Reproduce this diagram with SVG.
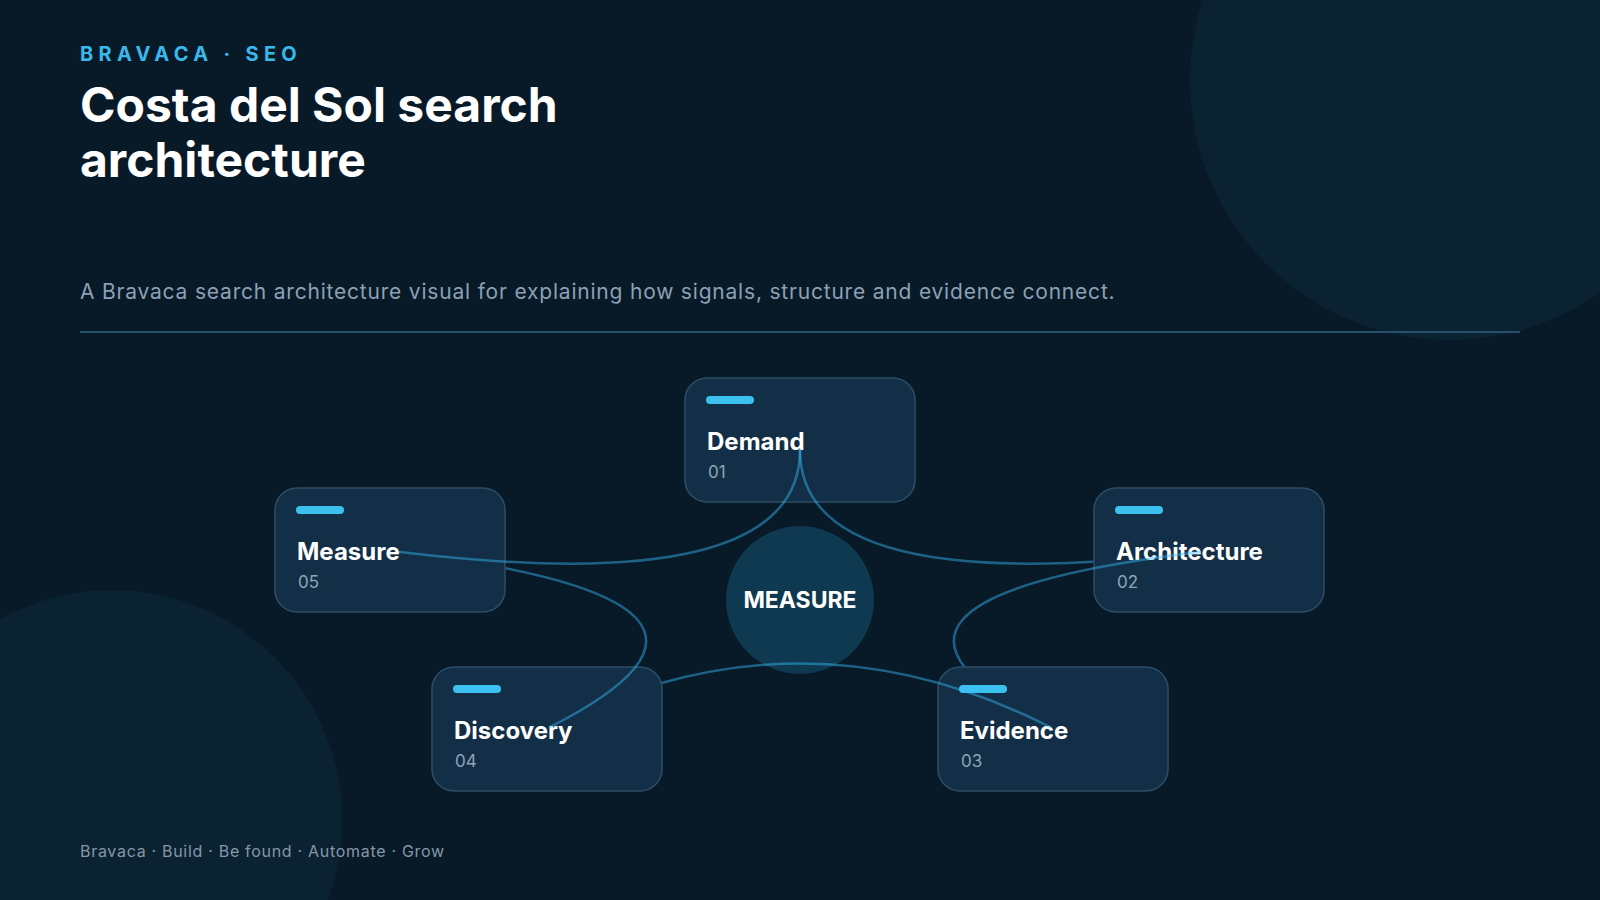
<svg xmlns="http://www.w3.org/2000/svg" width="1600" height="900" viewBox="0 0 1600 900">
  <style>
    .ff { font-family: Inter, "Noto Sans", "Liberation Sans", sans-serif; }
    .eyebrow { font-size: 20px; font-weight: 700; fill: #3ab8ec; letter-spacing: 5.3px; }
    .title { font-size: 48px; font-weight: 700; fill: #ffffff; }
    .sub { font-size: 21px; fill: #8ca1b4; letter-spacing: 0.8px; }
    .foot { font-size: 16px; fill: #8597a9; letter-spacing: 0.7px; }
    .box { fill: #132f47; stroke: #2c4e66; stroke-width: 1.5; }
    .bar { fill: #3cc0f0; }
    .ntitle { font-size: 24px; font-weight: 700; fill: #ffffff; }
    .nnum { font-size: 17px; fill: #8ea4b8; }
    .edge { fill: none; stroke: #38bdf8; stroke-opacity: 0.45; stroke-width: 2.5; stroke-linecap: round; }
    .hub { fill: #0f3951; }
    .hubtxt { font-size: 23px; font-weight: 700; fill: #ffffff; }
  </style>
  <defs>
    <mask id="m-arch" maskUnits="userSpaceOnUse" x="0" y="0" width="1600" height="900">
      <rect x="0" y="0" width="1600" height="900" fill="#fff"/>
      <rect x="1094" y="488" width="230" height="124" rx="22" fill="#000" stroke="#000" stroke-width="1.5"/>
    </mask>
    <mask id="m-evid" maskUnits="userSpaceOnUse" x="0" y="0" width="1600" height="900">
      <rect x="0" y="0" width="1600" height="900" fill="#fff"/>
      <rect x="938" y="667" width="230" height="124" rx="22" fill="#000" stroke="#000" stroke-width="1.5"/>
    </mask>
    <mask id="m-disc" maskUnits="userSpaceOnUse" x="0" y="0" width="1600" height="900">
      <rect x="0" y="0" width="1600" height="900" fill="#fff"/>
      <rect x="432" y="667" width="230" height="124" rx="22" fill="#000" stroke="#000" stroke-width="1.5"/>
    </mask>
    <mask id="m-meas" maskUnits="userSpaceOnUse" x="0" y="0" width="1600" height="900">
      <rect x="0" y="0" width="1600" height="900" fill="#fff"/>
      <rect x="275" y="488" width="230" height="124" rx="22" fill="#000" stroke="#000" stroke-width="1.5"/>
    </mask>
  </defs>

  <rect x="0" y="0" width="1600" height="900" fill="#081928"/>
  <circle cx="1450" cy="80" r="260" fill="#0b2232"/>
  <circle cx="112" cy="820" r="230" fill="#0b2232"/>

  <g id="header" class="ff">
    <text class="eyebrow" x="80" y="61">BRAVACA · SEO</text>
    <text class="title" x="80" y="122">Costa del Sol search</text>
    <text class="title" x="80" y="177">architecture</text>
    <text class="sub" x="80" y="299">A Bravaca search architecture visual for explaining how signals, structure and evidence connect.</text>
  </g>
  <line x1="80" y1="332" x2="1520" y2="332" stroke="#27506a" stroke-width="2"/>

  <g id="hub" class="ff">
    <circle class="hub" cx="800" cy="600" r="74"/>
    <text class="hubtxt" x="800" y="608" text-anchor="middle">MEASURE</text>
  </g>

  <g id="node-demand" class="ff">
    <rect class="box" x="685" y="378" width="230" height="124" rx="22"/>
    <rect class="bar" x="706" y="396" width="48" height="8" rx="4"/>
    <text class="ntitle" x="707" y="450">Demand</text>
    <text class="nnum" x="708" y="478">01</text>
  </g>
  <g id="node-architecture" class="ff">
    <rect class="box" x="1094" y="488" width="230" height="124" rx="22"/>
    <rect class="bar" x="1115" y="506" width="48" height="8" rx="4"/>
    <text class="ntitle" x="1116" y="560">Architecture</text>
    <text class="nnum" x="1117" y="588">02</text>
  </g>
  <g id="node-evidence" class="ff">
    <rect class="box" x="938" y="667" width="230" height="124" rx="22"/>
    <rect class="bar" x="959" y="685" width="48" height="8" rx="4"/>
    <text class="ntitle" x="960" y="739">Evidence</text>
    <text class="nnum" x="961" y="767">03</text>
  </g>
  <g id="node-discovery" class="ff">
    <rect class="box" x="432" y="667" width="230" height="124" rx="22"/>
    <rect class="bar" x="453" y="685" width="48" height="8" rx="4"/>
    <text class="ntitle" x="454" y="739">Discovery</text>
    <text class="nnum" x="455" y="767">04</text>
  </g>
  <g id="node-measure" class="ff">
    <rect class="box" x="275" y="488" width="230" height="124" rx="22"/>
    <rect class="bar" x="296" y="506" width="48" height="8" rx="4"/>
    <text class="ntitle" x="297" y="560">Measure</text>
    <text class="nnum" x="298" y="588">05</text>
  </g>

  <g id="connectors">
    <path class="edge" mask="url(#m-arch)" d="M800 450 Q800 600 1200 552"/>
    <path class="edge" mask="url(#m-evid)" d="M1200 552 Q800 600 1050 727"/>
    <path class="edge" mask="url(#m-disc)" d="M1050 727 Q800 600 550 727"/>
    <path class="edge" mask="url(#m-meas)" d="M550 727 Q800 600 400 552"/>
    <path class="edge" d="M400 552 Q800 600 800 450"/>
  </g>

  <text class="ff foot" x="80" y="857">Bravaca · Build · Be found · Automate · Grow</text>
</svg>
